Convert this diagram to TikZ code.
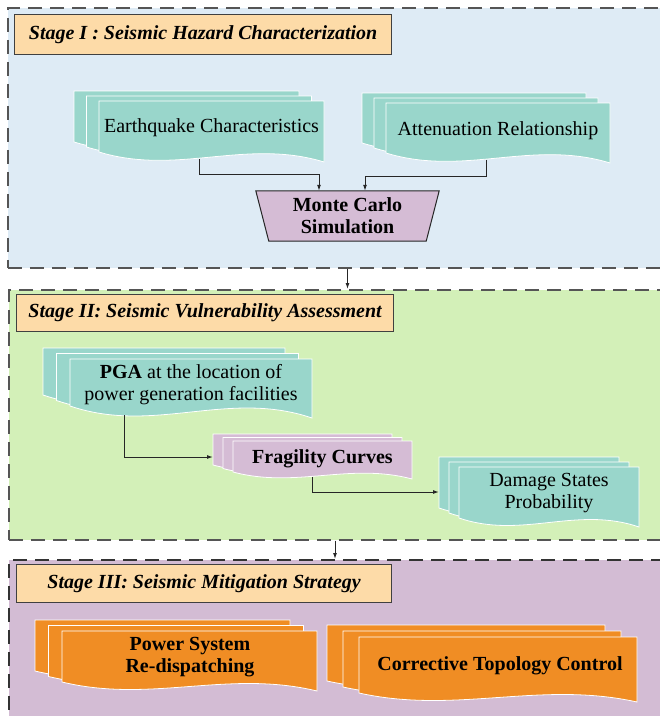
\documentclass[tikz,border=0pt]{standalone}
\usepackage{fontspec}
\setmainfont{Liberation Serif}
\usetikzlibrary{arrows.meta,calc,positioning}

\definecolor{hazardbg}{HTML}{DEEBF5}
\definecolor{vulnbg}{HTML}{D3F0B8}
\definecolor{mitigbg}{HTML}{D3BCD4}
\definecolor{titlebg}{HTML}{FDDBA8}
\definecolor{docteal}{HTML}{99D6CB}
\definecolor{docpurple}{HTML}{D5BCD5}
\definecolor{docorange}{HTML}{F08D24}
\definecolor{framegray}{HTML}{555555}

% one sheet: top left x, y, width, height, wave, colour
\newcommand{\sheet}[6]{%
  \filldraw[#6, draw=white, line width=0.8pt] (#1,#2) -- (#1+#3,#2) -- (#1+#3,#2+#4+#5)
    .. controls (#1+0.65*#3,#2+#4-1.4*#5) and (#1+0.35*#3,#2+#4+2.4*#5) .. (#1,#2+#4) -- cycle;}
% three sheets: front x, y, width, height, wave, dx, dy, colour
\newcommand{\sheetstack}[8]{%
  \sheet{#1-2*#6}{#2-2*#7}{#3}{#4}{#5}{#8}
  \sheet{#1-#6}{#2-#7}{#3}{#4}{#5}{#8}
  \sheet{#1}{#2}{#3}{#4}{#5}{#8}}

\begin{document}
\begin{tikzpicture}[x=1pt, y=-1pt,
    font=\fontsize{20}{22}\selectfont,
    stagebox/.style={draw=framegray, line width=1.5pt, dash pattern=on 14pt off 8pt,
      anchor=north west, inner sep=0pt},
    titlebox/.style={draw=black!75, fill=titlebg, line width=1.2pt, anchor=north west,
      inner sep=0pt, font=\fontsize{20}{22}\selectfont\bfseries\itshape},
    doctext/.style={align=center, inner sep=0pt},
    link/.style={draw=black!85, line width=1pt, -{Latex[length=6pt,width=4pt]}}]
  \useasboundingbox (0,0) rectangle (660,716);
  \clip (0,0) rectangle (660,716);

  %Stage frames
  \node[stagebox, fill=hazardbg, minimum width=690, minimum height=260] (s1) at (7,7) {};
  \node[stagebox, fill=vulnbg, minimum width=690, minimum height=250] (s2) at (8,289) {};
  \node[stagebox, fill=mitigbg, draw=black!80, minimum width=690, minimum height=200] (s3) at (8,559) {};
  \node[titlebox, minimum width=377, minimum height=40] (t1) at (14,14) {Stage I : Seismic Hazard Characterization};
  \node[titlebox, minimum width=377, minimum height=37] (t2) at (16,294) {Stage II: Seismic Vulnerability Assessment};
  \node[titlebox, minimum width=375, minimum height=38] (t3) at (16,564) {Stage III: Seismic Mitigation Strategy};

  %Stage I
  \sheetstack{99}{101}{225}{51}{10}{12.5}{5}{docteal}
  \sheetstack{386}{103}{224}{50}{10}{12}{5}{docteal}
  \node[doctext, anchor=base] (quake) at (211.5,132.7) {Earthquake Characteristics};
  \node[doctext, anchor=base] (atten) at (498,135) {Attenuation Relationship};
  \node[minimum width=183, minimum height=50, inner sep=0pt] (mc) at (347.5,216) {};
  \filldraw[docpurple, draw=black!85, line width=1pt] (mc.north west) -- (mc.north east)
    -- ([xshift=-13pt]mc.south east) -- ([xshift=13pt]mc.south west) -- cycle;
  \node[doctext, font=\fontsize{20}{22}\selectfont\bfseries] (mctext) at (mc) {Monte Carlo\\Simulation};
  \coordinate (quake-out) at (199,159);
  \coordinate (atten-out) at (486,160);
  \draw[link] (quake-out) -- ++(0,15) -| ([xshift=-28.5pt]mc.north);
  \draw[link] (atten-out) -- ++(0,16) -| ([xshift=17.5pt]mc.north);
  \draw[link] (s1.south -| mc.south) -- (s2.north -| mc.south);

  %Stage II
  \sheetstack{70}{359}{242}{47}{12}{13.5}{5.5}{docteal}
  \sheetstack{233}{441}{179}{31}{7}{10}{3.5}{docpurple}
  \sheetstack{459}{467}{180}{51}{9}{10}{5}{docteal}
  \node[doctext] (pga) at (191,385) {\textbf{PGA} at the location of\\power generation facilities};
  \node[doctext, anchor=base, font=\fontsize{20}{22}\selectfont\bfseries] (frag) at (322.5,463.3) {Fragility Curves};
  \node[doctext] (damage) at (549,493.5) {Damage States\\Probability};
  \coordinate (pga-out) at (124,415);
  \coordinate (frag-in) at (213,457);
  \coordinate (frag-out) at (312,477);
  \coordinate (damage-in) at (439,492);
  \draw[link] (pga-out) |- (frag-in);
  \draw[link] (frag-out) |- (damage-in);
  \coordinate (drop) at (335,549);
  \draw[link] (s2.south -| drop) -- (s3.north -| drop);

  %Stage III
  \sheetstack{62}{631}{255}{51}{9}{13.5}{5.5}{docorange}
  \sheetstack{359}{637}{278}{56}{9}{16}{6}{docorange}
  \node[doctext, font=\fontsize{20}{22}\selectfont\bfseries] (redispatch) at (190,657.5) {Power System\\Re-dispatching};
  \node[doctext, anchor=base, font=\fontsize{20}{22}\selectfont\bfseries] (topology) at (500,670) {Corrective Topology Control};
\end{tikzpicture}
\end{document}
